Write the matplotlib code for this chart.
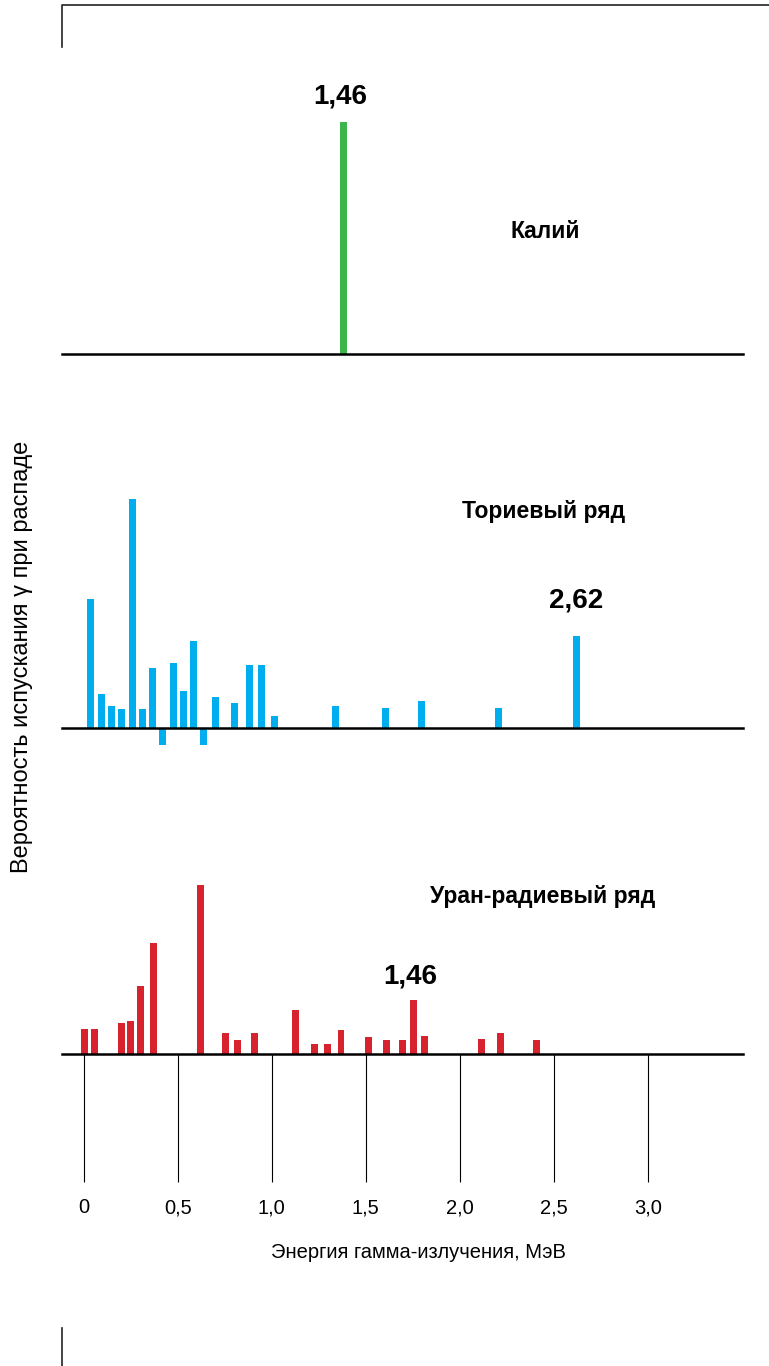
import matplotlib
matplotlib.use('Agg')
import matplotlib.pyplot as plt
from matplotlib.lines import Line2D

plt.rcParams['font.family'] = ['Liberation Sans', 'DejaVu Sans']

# energies in MeV, intensities in relative units (potassium line = 100)
k_energy = [1.38]
k_value = [100]

th_energy = [0.039, 0.094, 0.149, 0.204, 0.259, 0.312, 0.368, 0.422, 0.477, 0.530, 0.586,
             0.640, 0.703, 0.800, 0.884, 0.945, 1.014, 1.340, 1.605, 1.798, 2.206, 2.621]
th_value = [55.8, 14.8, 9.6, 8.2, 98.6, 8.2, 26.0, -7.5, 27.9, 15.8, 37.5,
            -7.5, 13.5, 10.8, 27.3, 27.3, 5.3, 9.6, 8.6, 11.6, 8.6, 39.7]

u_energy = [0.004, 0.059, 0.200, 0.248, 0.300, 0.373, 0.623, 0.757, 0.820, 0.908, 1.128,
            1.229, 1.295, 1.369, 1.514, 1.612, 1.697, 1.754, 1.812, 2.114, 2.215, 2.410]
u_value = [10.8, 10.6, 13.4, 14.4, 29.2, 47.7, 72.7, 8.9, 6.2, 8.9, 18.8,
           4.3, 4.3, 10.2, 7.5, 6.0, 6.0, 23.1, 7.8, 6.5, 9.2, 6.0]

ticks = [0, 0.5, 1.0, 1.5, 2.0, 2.5, 3.0]
tick_labels = ['0', '0,5', '1,0', '1,5', '2,0', '2,5', '3,0']

W, H = 769, 1366
SCALE = 2.32  # px per unit
x_left, x_right = 62, 743
x_lim = (-0.115, 3.507)

fig = plt.figure(figsize=(W / 100, H / 100), dpi=100)


def panel(base_px, top_px, bottom_px):
    ax = fig.add_axes([x_left / W, 1 - bottom_px / H, (x_right - x_left) / W, (bottom_px - top_px) / H])
    ax.set_xlim(*x_lim)
    ax.set_ylim(-(bottom_px - base_px) / SCALE, (base_px - top_px) / SCALE)
    for s in ['top', 'right', 'left']:
        ax.spines[s].set_visible(False)
    ax.spines['bottom'].set_position(('data', 0))
    ax.spines['bottom'].set_linewidth(1.8)
    ax.set_yticks([])
    ax.patch.set_alpha(0)
    return ax


ax_k = panel(354, 90, 400)
ax_t = panel(728, 470, 770)
ax_u = panel(1054, 860, 1070)

bw = 0.037
ax_k.bar(k_energy, k_value, width=bw, color='#3cb54a', zorder=1)
ax_t.bar(th_energy, th_value, width=bw, color='#00aeef', zorder=1)
ax_u.bar(u_energy, u_value, width=bw, color='#d7232e', zorder=1)

for ax in (ax_k, ax_t):
    ax.set_xticks([])

ax_u.set_xticks(ticks)
ax_u.set_xticklabels(tick_labels, fontsize=14.5)
ax_u.tick_params(axis='x', direction='out', length=92, width=0.8, pad=12)

bold = dict(fontweight='bold', ha='center', va='bottom', fontsize=20)
ax_k.annotate('1,46', (k_energy[0], k_value[0]), xytext=(-2, 9), textcoords='offset points', **bold)
ax_t.annotate('2,62', (th_energy[-1], th_value[-1]), xytext=(0, 16), textcoords='offset points', **bold)
ax_u.annotate('1,46', (u_energy[17], u_value[17]), xytext=(-2, 8), textcoords='offset points', **bold)

fig.text(545 / W, 1 - 232 / H, 'Калий', fontweight='bold', fontsize=16.5, ha='center', va='center')
fig.text(544 / W, 1 - 511 / H, 'Ториевый ряд', fontweight='bold', fontsize=16.5, ha='center', va='center')
fig.text(543 / W, 1 - 896 / H, 'Уран-радиевый ряд', fontweight='bold', fontsize=16.5, ha='center', va='center')

fig.text(22 / W, 1 - 657 / H, 'Вероятность испускания γ при распаде', rotation=90,
         fontsize=17, ha='center', va='center')
fig.text(418 / W, 1 - 1252 / H, 'Энергия гамма-излучения, МэВ', fontsize=14.5, ha='center', va='center')

# frame corners
fig.add_artist(Line2D([62 / W, 62 / W, 1], [1 - 47 / H, 1 - 5 / H, 1 - 5 / H], color='#222222', lw=1.2))
fig.add_artist(Line2D([62 / W, 62 / W], [1 - 1328 / H, 0], color='#222222', lw=1.2))

fig.savefig('out.png', dpi=100)
